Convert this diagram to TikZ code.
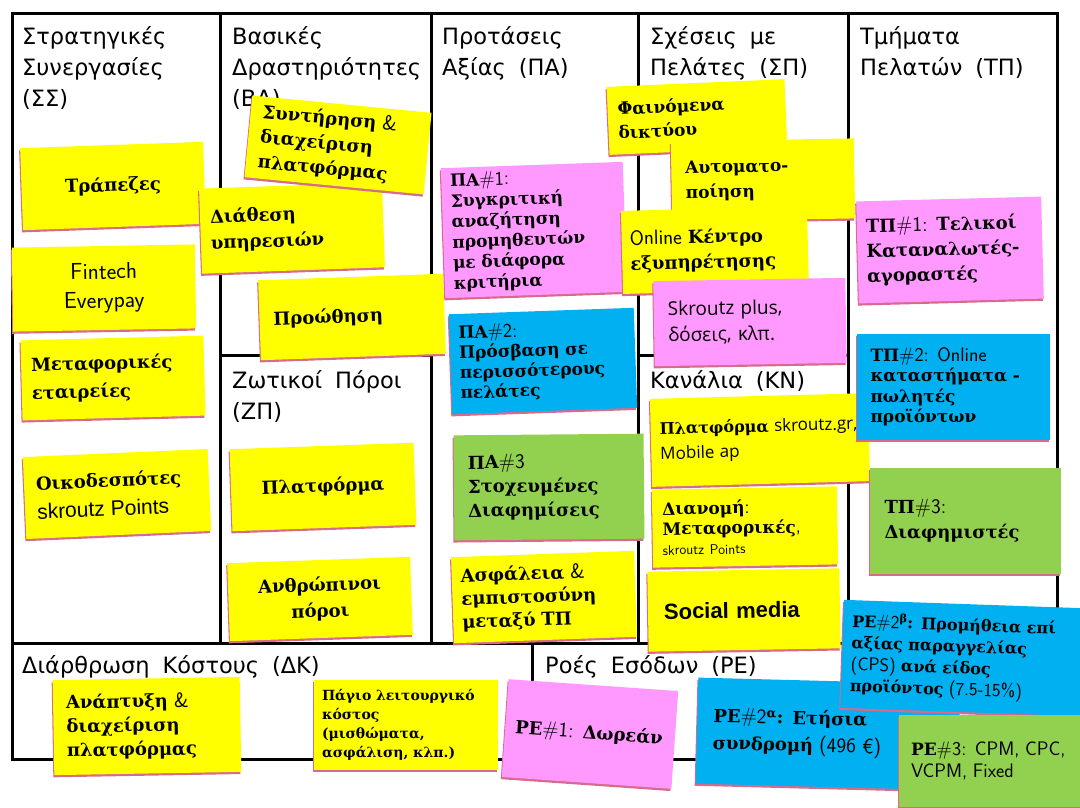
\documentclass[tikz,border=0pt]{standalone}
\usepackage{fontspec}
\setmainfont{DejaVu Serif}
\newfontfamily\headfont{DejaVu Sans}
\newfontfamily\arialf{Liberation Sans}
\newfontfamily\osans{Open Sans}
\usetikzlibrary{shadows}
\definecolor{ynote}{HTML}{FFFF00}
\definecolor{pnote}{HTML}{FF99FF}
\definecolor{bnote}{HTML}{00B0F0}
\definecolor{gnote}{HTML}{92D050}
\definecolor{shad}{HTML}{D86A8C}
\makeatletter
\newcommand\hnd[1]{{\normalfont\sffamily\fontsize{\fpeval{1.15*\f@size}}{\f@baselineskip}\selectfont #1}}
\makeatother
\newcommand\fs[2]{\fontsize{#1}{#2}\selectfont}
\tikzset{
  frame/.style={line width=3pt, black},
  head/.style={font={\headfont\fs{22.5}{31}\spaceskip=13pt plus 2pt}, align=left, inner sep=0pt, anchor=north west},
  note/.style={inner xsep=10pt, inner ysep=3pt, font=\bfseries\fs{18}{24},
    drop shadow={shadow xshift=-1pt, shadow yshift=-2.2pt, fill=shad, opacity=1}},
  yel/.style={note, fill=ynote},
  pnk/.style={note, fill=pnote},
  blu/.style={note, fill=bnote},
  grn/.style={note, fill=gnote},
}
\begin{document}
\begin{tikzpicture}[x=1pt,y=-1pt]
\fill[white] (0,0) rectangle (1080,807);
\useasboundingbox (0,0) rectangle (1080,807);
% frame
\draw[frame] (12,13) rectangle (1057,643);
\draw[frame] (220,13) -- (220,643);
\draw[frame] (431,13) -- (431,643);
\draw[frame] (638,13) -- (638,643);
\draw[frame] (848,13) -- (848,643);
\draw[frame] (220,355) -- (431,355);
\draw[frame] (638,355) -- (848,355);
\draw[frame] (12,643) rectangle (532,759);
\draw[frame] (532,643) rectangle (1057,759);
% headers
\node[head] (hSS) at (22,26) {Στρατηγικές\\Συνεργασίες\\(ΣΣ)};
\node[head] (hBD) at (232,26) {Βασικές\\Δραστηριότητες\\(ΒΔ)};
\node[head] (hPA) at (442,26) {Προτάσεις\\Αξίας (ΠΑ)};
\node[head] (hSP) at (650,26) {Σχέσεις με\\Πελάτες (ΣΠ)};
\node[head] (hTP) at (860,26) {Τμήματα\\Πελατών (ΤΠ)};
\node[head] (hZP) at (232,370) {Ζωτικοί Πόροι\\(ΖΠ)};
\node[head] (hKN) at (650,370) {Κανάλια (ΚΝ)};
\node[head] (hDK) at (22,655) {Διάρθρωση Κόστους (ΔΚ)};
\node[head] (hRE) at (545,655) {Ροές Εσόδων (ΡΕ)};
% Key partners
\node[yel, minimum width=183pt, minimum height=82pt, rotate=2, align=center] (trap) at (113,186) {Τράπεζες};
\node[yel, minimum width=183pt, minimum height=84pt, rotate=1, align=center, font=\normalfont\sffamily\fs{23}{29}] (fin) at (104,288) {Fintech\\Everypay};
\node[yel, minimum width=183pt, minimum height=80pt, rotate=1.5, text width=163pt, align=left, font=\bfseries\fs{18}{28}] (meta) at (113,378) {Μεταφορικές\\εταιρείες};
\node[yel, minimum width=185pt, minimum height=82pt, rotate=2.5, inner xsep=12pt, text width=161pt, align=left, font=\bfseries\fs{18}{29}] (oiko) at (117,494) {Οικοδεσπότες\\{\normalfont\arialf\fs{21}{29}skroutz Points}};
% Key activities
\node[yel, minimum width=183pt, minimum height=85pt, rotate=2, text width=163pt, align=left, font=\bfseries\fs{18}{26}] (diat) at (292,228) {Διάθεση\\υπηρεσιών};
\node[yel, minimum width=180pt, minimum height=82pt, rotate=-5.5, text width=156pt, inner xsep=12pt, align=left, font=\bfseries\fs{18}{25}] (synt) at (338,145) {Συντήρηση \hnd{\&}\\διαχείριση\\πλατφόρμας};
\node[yel, minimum width=185pt, minimum height=80pt, rotate=2, text width=157pt, inner xsep=14pt, align=left] (proo) at (352,317) {Προώθηση};
% Key resources
\node[yel, minimum width=184pt, minimum height=82pt, rotate=2, align=center] (plat) at (323,487) {Πλατφόρμα};
\node[yel, minimum width=183pt, minimum height=78pt, rotate=2, align=center, font=\bfseries\fs{18}{26}] (anth) at (320,599) {Ανθρώπινοι\\πόροι};
% Value propositions
\node[pnk, minimum width=182pt, minimum height=130pt, rotate=2, text width=164pt, inner xsep=9pt, align=left, font=\bfseries\fs{17}{20.5}] (pa1) at (534,230) {ΠΑ\hnd{\#1:}\\Συγκριτική\\αναζήτηση\\προμηθευτών\\με διάφορα\\κριτήρια};
\node[blu, minimum width=185pt, minimum height=100pt, rotate=2, text width=167pt, inner xsep=9pt, align=left, font=\bfseries\fs{17}{20}] (pa2) at (543,361) {ΠΑ\hnd{\#2:}\\Πρόσβαση σε\\περισσότερους\\πελάτες};
\node[grn, minimum width=190pt, minimum height=105pt, rotate=0.5, text width=162pt, inner xsep=14pt, align=left, font=\bfseries\fs{18}{24}] (pa3) at (549,487) {ΠΑ\hnd{\#3}\\Στοχευμένες\\Διαφημίσεις};
\node[yel, minimum width=183pt, minimum height=86pt, rotate=2, text width=165pt, inner xsep=9pt, align=left, font=\bfseries\fs{18}{23}] (asf) at (544,597) {Ασφάλεια \hnd{\&}\\εμπιστοσύνη\\μεταξύ ΤΠ};
% Customer relationships
\node[yel, minimum width=178pt, minimum height=68pt, rotate=2.5, text width=158pt, align=left, font=\bfseries\fs{17}{24}] (fain) at (697,117) {Φαινόμενα\\δικτύου};
\node[yel, minimum width=183pt, minimum height=80pt, rotate=1, text width=155pt, inner xsep=14pt, align=left, font=\bfseries\fs{17}{25}] (auto) at (763,180) {Αυτοματο-\\ποίηση};
\node[yel, minimum width=186pt, minimum height=83pt, rotate=1.5, text width=170pt, inner xsep=8pt, align=left, font=\bfseries\fs{18}{25}] (onl) at (715,250) {\hnd{Online} Κέντρο\\εξυπηρέτησης};
\node[pnk, minimum width=192pt, minimum height=85pt, rotate=1, text width=164pt, inner xsep=14pt, align=left, font=\osans\fs{19}{26}] (skp) at (750,322) {Skroutz plus,\\δόσεις, κλπ.};
% Channels
\node[yel, minimum width=218pt, minimum height=88pt, rotate=1.5, text width=200pt, inner xsep=9pt, align=left, font=\bfseries\fs{16}{25}] (kn1) at (760,440) {Πλατφόρμα {\normalfont\osans\fs{17}{25}skroutz.gr,}\\{\normalfont\osans\fs{17}{25}Mobile ap}};
\node[yel, minimum width=185pt, minimum height=78pt, rotate=1, text width=165pt, align=left, font=\bfseries\fs{17}{20}] (kn2) at (745,527) {Διανομή\hnd{:}\\Μεταφορικές\hnd{,}\\\hnd{\fs{14}{18}skroutz Points}};
\node[yel, minimum width=192pt, minimum height=80pt, rotate=1, text width=160pt, inner xsep=16pt, align=left, font=\arialf\bfseries\fs{22}{24}] (kn3) at (744,610) {Social media};
% Customer segments
\node[pnk, minimum width=185pt, minimum height=102pt, rotate=1.5, text width=167pt, inner xsep=9pt, align=left, font=\bfseries\fs{18}{25}] (tp1) at (950,250) {ΤΠ\hnd{\#1:} Τελικοί\\Καταναλωτές-\\αγοραστές};
\node[blu, minimum width=193pt, minimum height=106pt, text width=165pt, inner xsep=14pt, align=left, font=\bfseries\fs{17}{20.5}] (tp2) at (953,387) {ΤΠ\hnd{\#2: Online}\\καταστήματα -\\πωλητές\\προϊόντων};
\node[grn, minimum width=191pt, minimum height=106pt, text width=161pt, inner xsep=15pt, align=left, font=\bfseries\fs{18}{25}] (tp3) at (965,521) {ΤΠ\hnd{\#3:}\\Διαφημιστές};
% Cost structure
\node[yel, minimum width=187pt, minimum height=95pt, rotate=1, text width=161pt, inner xsep=13pt, align=left, font=\bfseries\fs{18}{24}] (dk1) at (147,726) {Ανάπτυξη \hnd{\&}\\διαχείριση\\πλατφόρμας};
\node[yel, minimum width=184pt, minimum height=90pt, text width=168pt, inner xsep=8pt, align=left, font=\bfseries\fs{14}{19}] (dk2) at (406,725) {Πάγιο λειτουργικό\\κόστος\\(μισθώματα,\\ασφάλιση, κλπ.)};
% Revenue streams
\node[pnk, minimum width=170pt, minimum height=98pt, rotate=-4, text width=150pt, inner xsep=10pt, align=left, font=\bfseries\fs{18}{24}] (re1) at (590,734) {ΡΕ\hnd{\#1:} Δωρεάν};
\node[blu, minimum width=262pt, minimum height=106pt, rotate=-1.5, text width=230pt, inner xsep=16pt, align=left, font=\bfseries\fs{18}{27}] (re2a) at (828,734) {ΡΕ\hnd{\#2}\textsuperscript{α}: Ετήσια\\συνδρομή \hnd{(496 €)}};
\node[blu, minimum width=240pt, minimum height=108pt, rotate=-2, text width=222pt, inner xsep=9pt, align=left, font=\bfseries\fs{16}{21.5}] (re2b) at (962,658) {ΡΕ\hnd{\#2}\textsuperscript{β}: Προμήθεια επί\\αξίας παραγγελίας\\\hnd{(CPS)} ανά είδος\\προϊόντος \hnd{(7.5-15\%)}};
\node[grn, minimum width=190pt, minimum height=92pt, text width=166pt, inner xsep=12pt, align=left, font=\bfseries\fs{17}{22}] (re3) at (994,761) {ΡΕ\hnd{\#3: CPM, CPC,}\\\hnd{VCPM, Fixed}};
\end{tikzpicture}
\end{document}
